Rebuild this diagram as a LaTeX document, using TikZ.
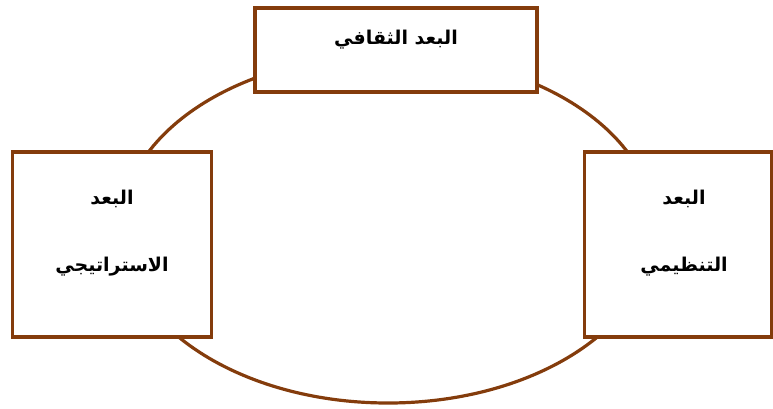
\documentclass[tikz,border=0pt]{standalone}
\usepackage{fontspec}
\newfontfamily\arabicfont[Script=Arabic]{DejaVu Sans}
\TeXXeTstate=1
\definecolor{frame}{RGB}{132,60,12}
\tikzset{
  dimbox/.style={draw=frame, line width=3.4pt, fill=white, inner sep=0pt},
  dimtext/.style={font=\arabicfont\bfseries\fontsize{19}{22}\selectfont, inner sep=0pt}
}
\begin{document}
\begin{tikzpicture}[x=1pt, y=-1pt]
      \useasboundingbox (0,0) rectangle (773,408);

      % Ring
      \draw[frame, line width=3.2pt] (388,229) ellipse (267 and 174);

      % Boxes
      \node[dimbox, minimum width=282pt, minimum height=84pt] (culture) at (396,50) {};
      \node[dimbox, minimum width=199pt, minimum height=185pt] (strategy) at (112,244.5) {};
      \node[dimbox, minimum width=187pt, minimum height=185pt] (organize) at (678,244.5) {};

      % Labels
      \node[dimtext] (cultureL) at (396,40) {\beginR البعد الثقافي\endR};
      \node[dimtext] (strategyA) at (112,199) {\beginR البعد\endR};
      \node[dimtext] (strategyB) at (112,267) {\beginR الاستراتيجي\endR};
      \node[dimtext] (organizeA) at (684,199) {\beginR البعد\endR};
      \node[dimtext] (organizeB) at (684,267) {\beginR التنظيمي\endR};

\end{tikzpicture}
\end{document}
